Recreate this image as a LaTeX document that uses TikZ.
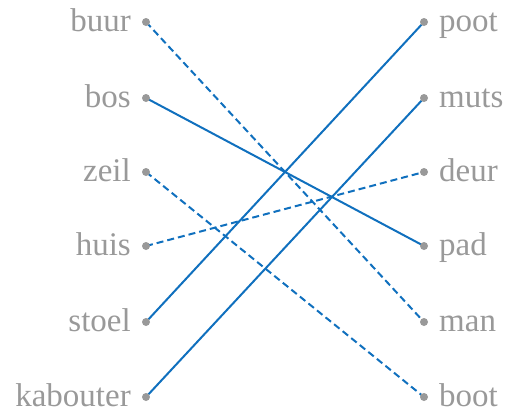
\documentclass[tikz,border=0pt]{standalone}
\usepackage{fontspec}
\setmainfont{Liberation Serif}
\definecolor{lbl}{RGB}{153,153,153}
\definecolor{ln}{RGB}{16,112,190}
\begin{document}
\begin{tikzpicture}[x=1pt,y=-1pt,
  lab/.style={text=lbl,font=\fontsize{33}{33}\selectfont,inner sep=0pt},
  dot/.style={circle,fill=lbl,inner sep=0pt,minimum size=8pt},
  solidln/.style={ln,line width=2pt},
  dashln/.style={ln,line width=2pt,dash pattern=on 7pt off 4pt}]
\useasboundingbox (0,0) rectangle (507,410);
\foreach \n/\t/\y in {l1/buur/22,l2/bos/98,l3/zeil/172,l4/huis/246,l5/stoel/322,l6/kabouter/397}{
  \coordinate (\n) at (146,\y);
  \node[lab,anchor=base east] (\n t) at (131,\y+9) {\t};
}
\foreach \n/\t/\y in {r1/poot/22,r2/muts/98,r3/deur/172,r4/pad/246,r5/man/322,r6/boot/397}{
  \coordinate (\n) at (424,\y);
  \node[lab,anchor=base west] (\n t) at (439,\y+9) {\t};
}
\draw[dashln] (l1) -- (r5);
\draw[solidln] (l2) -- (r4);
\draw[dashln] (l3) -- (r6);
\draw[dashln] (l4) -- (r3);
\draw[solidln] (l5) -- (r1);
\draw[solidln] (l6) -- (r2);
\foreach \n in {l1,l2,l3,l4,l5,l6,r1,r2,r3,r4,r5,r6}{
  \node[dot] (\n d) at (\n) {};
}
\end{tikzpicture}
\end{document}
